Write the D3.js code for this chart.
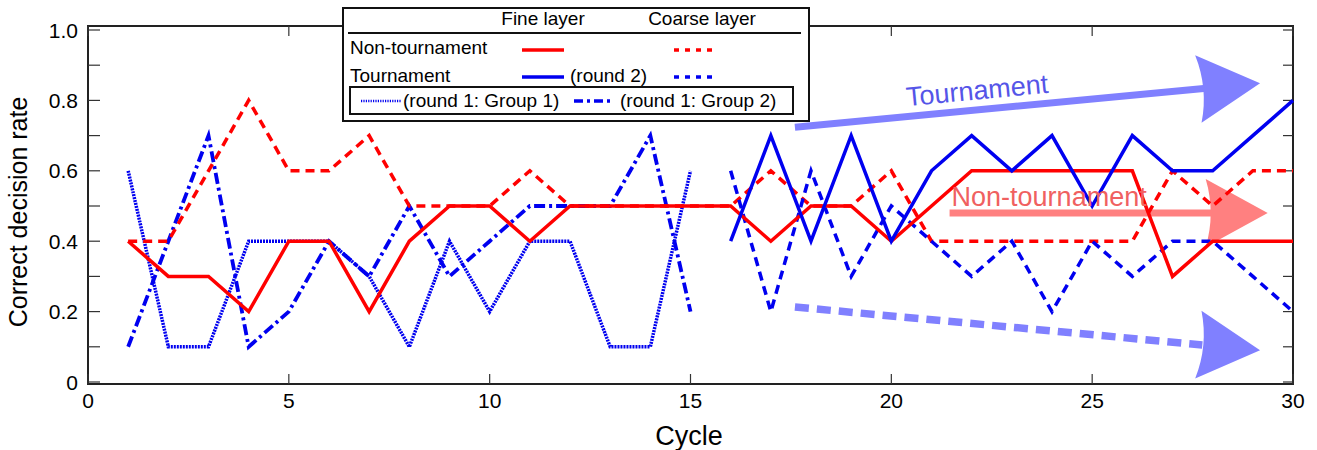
<!DOCTYPE html>
<html lang="en">
<head>
<meta charset="UTF-8">
<title>Correct decision rate</title>
<script src="https://cdn.jsdelivr.net/npm/d3@7"></script>
<style>
  body { margin: 0; background: #fff; }
  svg { font-family: "Liberation Sans", Arial, sans-serif; }
</style>
</head>
<body>
<div id="chart"></div>
<script>
// ---- data ----
var cyclesR1 = d3.range(1, 16);          // round 1: cycles 1..15
var cyclesR2 = d3.range(16, 31);         // round 2: cycles 16..30
var cyclesAll = d3.range(1, 31);

var nonTourFine   = [0.4,0.3,0.3,0.2,0.4,0.4,0.2,0.4,0.5,0.5,0.4,0.5,0.5,0.5,0.5,
                     0.5,0.4,0.5,0.5,0.4,0.5,0.6,0.6,0.6,0.6,0.6,0.3,0.4,0.4,0.4];
var nonTourCoarse = [0.4,0.4,0.6,0.8,0.6,0.6,0.7,0.5,0.5,0.5,0.6,0.5,0.5,0.5,0.5,
                     0.5,0.6,0.5,0.5,0.6,0.4,0.4,0.4,0.4,0.4,0.4,0.6,0.5,0.6,0.6];
var r1Group1      = [0.6,0.1,0.1,0.4,0.4,0.4,0.3,0.1,0.4,0.2,0.4,0.4,0.1,0.1,0.6];
var r1Group2      = [0.1,0.4,0.7,0.1,0.2,0.4,0.3,0.5,0.3,0.4,0.5,0.5,0.5,0.7,0.2];
var tourFine      = [0.4,0.7,0.4,0.7,0.4,0.6,0.7,0.6,0.7,0.5,0.7,0.6,0.6,0.7,0.8];
var tourCoarse    = [0.6,0.2,0.6,0.3,0.5,0.4,0.3,0.4,0.2,0.4,0.3,0.4,0.4,0.3,0.2];

var yTicks = d3.range(0, 1.01, 0.1);
var yLabels = [0, 0.2, 0.4, 0.6, 0.8, 1.0];
var xTicks = [0, 5, 10, 15, 20, 25, 30];

// trend arrows, in data units: [x0, y0, xTip, yTip]
var arrowTour    = [17.6, 0.724, 29.18, 0.849];
var arrowNonTour = [21.45, 0.48, 29.37, 0.48];
var arrowDown    = [17.6, 0.213, 29.18, 0.09];

var width = 1317, height = 450;
var RED = "#f00", BLUE = "#0000f0";

var x = d3.scaleLinear().domain([0, 30]).range([88, 1293]);
var y = d3.scaleLinear().domain([0, 1]).range([382, 30]);

var svg = d3.select("#chart").append("svg")
    .attr("width", width)
    .attr("height", height);

var plotTop = 26, plotBottom = 384;

// frame
svg.append("rect")
    .attr("x", x(0)).attr("y", plotTop)
    .attr("width", x(30) - x(0)).attr("height", plotBottom - plotTop)
    .attr("fill", "none").attr("stroke", "#222").attr("stroke-width", 2);

// y ticks (inward, both sides)
yTicks.forEach(function (t) {
    svg.append("line").attr("x1", x(0)).attr("x2", x(0) + 12)
        .attr("y1", y(t)).attr("y2", y(t)).attr("stroke", "#333").attr("stroke-width", 1.2);
    svg.append("line").attr("x1", x(30)).attr("x2", x(30) - 10)
        .attr("y1", y(t)).attr("y2", y(t)).attr("stroke", "#333").attr("stroke-width", 1.2);
});
yLabels.forEach(function (t) {
    svg.append("text").attr("x", 78).attr("y", y(t) + 7.5)
        .attr("text-anchor", "end").attr("font-size", 21)
        .text(t === 0 ? "0" : d3.format(".1f")(t));
});
// x ticks
xTicks.forEach(function (t) {
    svg.append("line").attr("x1", x(t)).attr("x2", x(t))
        .attr("y1", plotBottom).attr("y2", plotBottom - 10).attr("stroke", "#333").attr("stroke-width", 1.2);
    svg.append("line").attr("x1", x(t)).attr("x2", x(t))
        .attr("y1", plotTop).attr("y2", plotTop + 10).attr("stroke", "#333").attr("stroke-width", 1.2);
    svg.append("text").attr("x", x(t)).attr("y", 408)
        .attr("text-anchor", "middle").attr("font-size", 21).text(t);
});

svg.append("text").attr("x", 689).attr("y", 445)
    .attr("text-anchor", "middle").attr("font-size", 27).text("Cycle");
svg.append("text")
    .attr("transform", "translate(27," + 212 + ") rotate(-90)")
    .attr("text-anchor", "middle").attr("font-size", 25).text("Correct decision rate");

// trend arrows (drawn under the data lines)
function arrow(a, color, dash) {
    var p0 = [x(a[0]), y(a[1])], tip = [x(a[2]), y(a[3])];
    var dx = tip[0] - p0[0], dy = tip[1] - p0[1];
    var L = Math.sqrt(dx * dx + dy * dy), ux = dx / L, uy = dy / L;
    var nx = -uy, ny = ux;
    var back = 62, notch = 50, half = 34;
    var notchPt = [tip[0] - ux * notch, tip[1] - uy * notch];
    svg.append("line")
        .attr("x1", p0[0]).attr("y1", p0[1])
        .attr("x2", notchPt[0] - ux * (dash ? 8 : -4)).attr("y2", notchPt[1] - uy * (dash ? 8 : -4))
        .attr("stroke", color).attr("stroke-width", dash ? 7.5 : 7)
        .attr("stroke-dasharray", dash ? "14,8" : null);
    var c1 = [tip[0] - ux * back + nx * half, tip[1] - uy * back + ny * half];
    var c2 = [tip[0] - ux * back - nx * half, tip[1] - uy * back - ny * half];
    svg.append("path")
        .attr("d", "M" + tip + "L" + c1 + "Q" + [notchPt[0] - ux * 2, notchPt[1] - uy * 2] + " " + c2 + "Z")
        .attr("fill", color);
}
arrow(arrowTour, "#8080ff", false);
arrow(arrowNonTour, "#ff8080", false);
arrow(arrowDown, "#8080ff", true);

// data lines
function series(xs, ys, color, dash, w) {
    var line = d3.line().x(function (d) { return x(d[0]); }).y(function (d) { return y(d[1]); });
    svg.append("path")
        .datum(d3.zip(xs, ys))
        .attr("d", line)
        .attr("fill", "none")
        .attr("stroke", color)
        .attr("stroke-width", w || 3.5)
        .attr("stroke-linejoin", "miter")
        .attr("stroke-dasharray", dash);
}
series(cyclesR1, r1Group1, BLUE, "2,1", 3.5);
series(cyclesR1, r1Group2, BLUE, "11,4,3,4", 3.8);
series(cyclesAll, nonTourCoarse, RED, "9,6", 3.5);
series(cyclesR2, tourCoarse, BLUE, "9,6", 3.5);
series(cyclesAll, nonTourFine, RED, null, 3.5);
series(cyclesR2, tourFine, BLUE, null, 3.5);

// annotation text
var tp = [x(arrowTour[0]), y(arrowTour[1])];
var ang = Math.atan2(y(arrowTour[3]) - y(arrowTour[1]), x(arrowTour[2]) - x(arrowTour[0])) * 180 / Math.PI;
svg.append("text")
    .attr("transform", "translate(" + (tp[0] + 112) + "," + (tp[1] - 21) + ") rotate(" + ang + ")")
    .attr("font-size", 27).attr("fill", "#5555e8").text("Tournament");
svg.append("text")
    .attr("x", x(arrowNonTour[0]) + 2).attr("y", y(arrowNonTour[1]) - 7)
    .attr("font-size", 27).attr("fill", "#f06060").text("Non-tournament");

// legend
var lg = svg.append("g");
lg.append("rect").attr("x", 343).attr("y", 8).attr("width", 466).attr("height", 113)
    .attr("fill", "#fff").attr("stroke", "#111").attr("stroke-width", 2);
lg.append("line").attr("x1", 348).attr("x2", 801).attr("y1", 33).attr("y2", 33)
    .attr("stroke", "#111").attr("stroke-width", 2);
lg.append("text").attr("x", 543).attr("y", 25).attr("text-anchor", "middle").attr("font-size", 19).text("Fine layer");
lg.append("text").attr("x", 702).attr("y", 25).attr("text-anchor", "middle").attr("font-size", 19).text("Coarse layer");
lg.append("text").attr("x", 350).attr("y", 54).attr("font-size", 19).text("Non-tournament");
lg.append("text").attr("x", 350).attr("y", 82).attr("font-size", 19).text("Tournament");
function sample(x1, x2, yy, color, dash, w) {
    lg.append("line").attr("x1", x1).attr("x2", x2).attr("y1", yy).attr("y2", yy)
        .attr("stroke", color).attr("stroke-width", w || 3.5).attr("stroke-dasharray", dash);
}
sample(522, 564, 50, RED, null);
sample(674, 717, 50, RED, "5,6");
sample(522, 564, 77, BLUE, null);
lg.append("text").attr("x", 570).attr("y", 82).attr("font-size", 19).text("(round 2)");
sample(674, 717, 77, BLUE, "5,6");
lg.append("rect").attr("x", 350).attr("y", 87).attr("width", 443).attr("height", 27)
    .attr("fill", "#fff").attr("stroke", "#111").attr("stroke-width", 2);
sample(361, 401, 101, BLUE, "1.2,1.2", 2.5);
lg.append("text").attr("x", 403).attr("y", 107).attr("font-size", 19).text("(round 1: Group 1)");
sample(574, 613, 101, BLUE, "9,4,3,4", 3.5);
lg.append("text").attr("x", 620).attr("y", 107).attr("font-size", 19).text("(round 1: Group 2)");
</script>
</body>
</html>
